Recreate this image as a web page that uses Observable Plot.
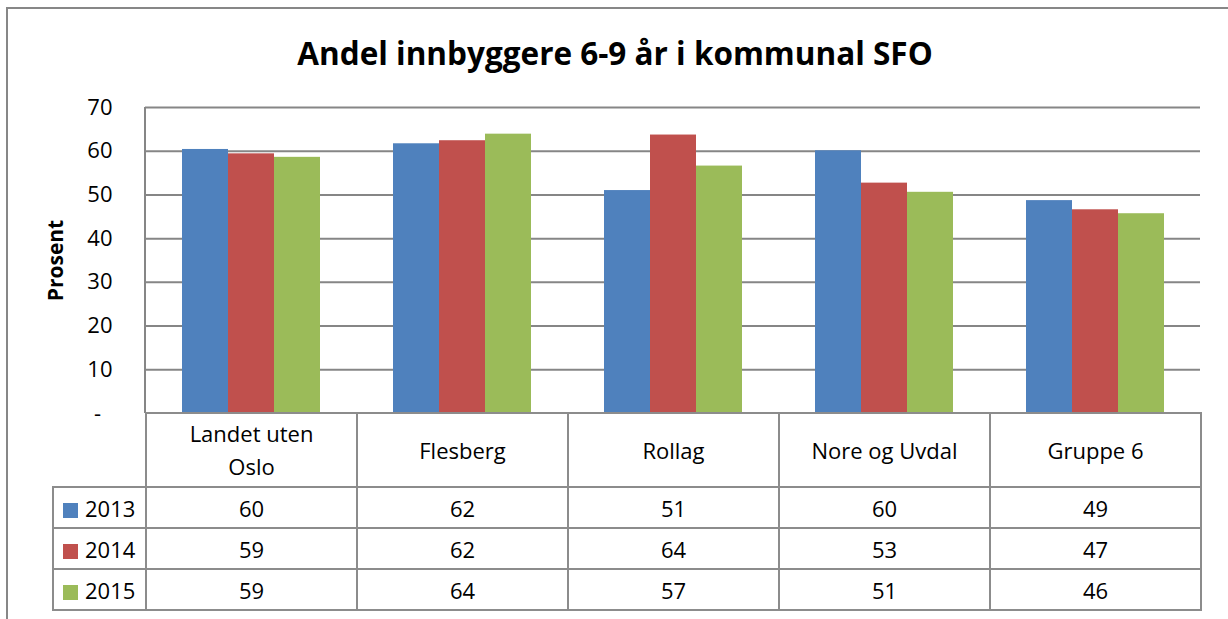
<!DOCTYPE html>
<html>
<head>
<meta charset="utf-8">
<script src="https://cdn.jsdelivr.net/npm/d3@7"></script>
<script src="https://cdn.jsdelivr.net/npm/@observablehq/plot@0.6"></script>
<style>
  html, body { margin: 0; padding: 0; background: #fff; }
  #wrap { position: relative; width: 1228px; height: 619px; overflow: hidden; background: #fff; font-family: "Open Sans", sans-serif; color: #000; }
  #frame { position: absolute; left: 6px; top: 7px; width: 1300px; height: 700px; border-left: 2px solid #878787; border-top: 2px solid #878787; }
  #title { position: absolute; left: 0; top: 33px; width: 1230px; text-align: center; font-family: "Open Sans", sans-serif; font-weight: bold; font-size: 31.5px; line-height: 40px; }
  #plot { position: absolute; left: 0; top: 0; }
  #plot g[aria-label="y-axis label"] text { font-weight: bold; font-size: 21px; }
  #tbl { position: absolute; left: 52px; top: 412px; border-collapse: collapse; table-layout: fixed; font-size: 22px; }
  #tbl td { border: 2px solid #8c8c8c; text-align: center; padding: 0; }
  #tbl td.blank { border-top: none; border-left: none; }
  #tbl tr.head td { height: 72px; line-height: 33px; }
  #tbl tr.row td { height: 39px; }
  #tbl td.lab { text-align: left; padding-left: 9px; white-space: nowrap; }
  #tbl .sw { display: inline-block; width: 15px; height: 15px; margin-right: 7px; vertical-align: -1px; }
  #tbl .hd { display: inline-block; max-width: 165px; }
</style>
</head>
<body>
<div id="wrap">
  <div id="frame"></div>
  <div id="plot"></div>
  <div id="title"></div>
  <table id="tbl"></table>
</div>
<script>
const title = "Andel innbyggere 6-9 år i kommunal SFO";
const yLabel = "Prosent";
const categories = ["Landet uten Oslo", "Flesberg", "Rollag", "Nore og Uvdal", "Gruppe 6"];
const years = ["2013", "2014", "2015"];
const values2013 = [60.4, 61.7, 51.0, 60.1, 48.7];
const values2014 = [59.4, 62.4, 63.7, 52.7, 46.6];
const values2015 = [58.6, 63.9, 56.6, 50.6, 45.7];
const colors = ["#4F81BD", "#C0504D", "#9BBB59"];
const yTicks = [0, 10, 20, 30, 40, 50, 60, 70];

const series = [values2013, values2014, values2015];
const data = categories.flatMap((c, i) => years.map((yr, j) => ({category: c, year: yr, value: series[j][i]})));

document.getElementById("title").textContent = title;

const chart = Plot.plot({
  width: 1228,
  height: 420,
  marginLeft: 145,
  marginRight: 28,
  marginTop: 107,
  marginBottom: 7,
  style: {fontFamily: "Open Sans", fontSize: "22px", color: "#000", background: "transparent", overflow: "visible"},
  fx: {domain: categories, padding: 0, axis: null},
  x: {domain: years, paddingInner: 0, paddingOuter: 0.745, axis: null},
  y: {
    domain: [0, 70],
    ticks: yTicks,
    tickFormat: d => d === 0 ? "-\u00a0\u00a0" : String(d),
    tickSize: 0,
    tickPadding: 33,
    label: yLabel,
    labelArrow: false,
    labelAnchor: "center",
    labelOffset: 97
  },
  color: {domain: years, range: colors},
  marks: [
    Plot.ruleY(yTicks.filter(d => d > 0), {stroke: "#868686", strokeWidth: 2}),
    Plot.barY(data, {fx: "category", x: "year", y: "value", fill: "year"})
  ]
});

const fxs = chart.scale("fx"), ys = chart.scale("y");
d3.select(chart).append("line")
  .attr("x1", fxs.range[0]).attr("x2", fxs.range[0])
  .attr("y1", ys.range[0]).attr("y2", ys.range[1])
  .attr("stroke", "#868686").attr("stroke-width", 2);

document.getElementById("plot").appendChild(chart);

// data table
const tbl = d3.select("#tbl");
const cg = tbl.append("colgroup");
cg.append("col").style("width", "93px");
categories.forEach(() => cg.append("col").style("width", "211px"));
const head = tbl.append("tr").attr("class", "head");
head.append("td").attr("class", "blank");
categories.forEach(c => head.append("td").append("span").attr("class", "hd").text(c));
years.forEach((yr, j) => {
  const tr = tbl.append("tr").attr("class", "row");
  const lab = tr.append("td").attr("class", "lab");
  lab.append("span").attr("class", "sw").style("background", colors[j]);
  lab.append("span").text(yr);
  series[j].forEach(v => tr.append("td").text(Math.round(v)));
});
</script>
</body>
</html>
